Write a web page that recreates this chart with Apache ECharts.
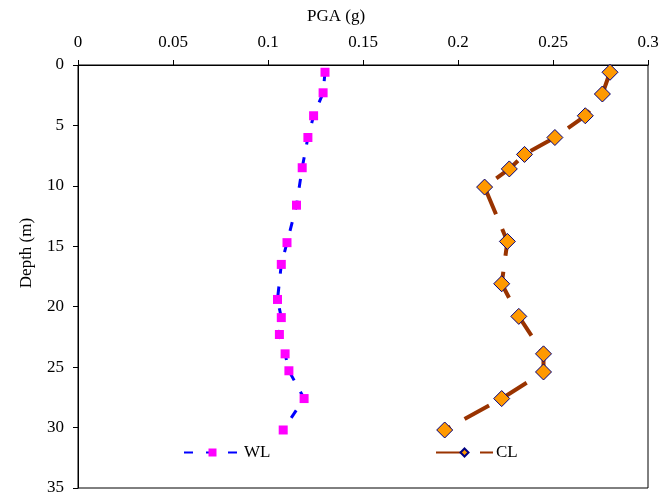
<!DOCTYPE html>
<html>
<head>
<meta charset="utf-8">
<script src="https://cdn.jsdelivr.net/npm/echarts@6/dist/echarts.min.js"></script>
<style>
  html, body { margin: 0; padding: 0; background: #fff; }
  #chart { width: 672px; height: 502px; }
</style>
</head>
<body>
<div id="chart"></div>
<script>
// Peak ground acceleration profiles with depth
const depthWL = [0.6, 2.3, 4.2, 6.0, 8.5, 11.6, 14.7, 16.5, 19.4, 20.9, 22.3, 23.9, 25.3, 27.6, 30.2];
const pgaWL   = [0.130, 0.129, 0.124, 0.121, 0.118, 0.115, 0.110, 0.107, 0.105, 0.107, 0.106, 0.109, 0.111, 0.119, 0.108];

const depthCL = [0.6, 2.4, 4.2, 6.0, 7.4, 8.6, 10.1, 14.6, 18.1, 20.8, 23.9, 25.4, 27.6, 30.2];
const pgaCL   = [0.280, 0.276, 0.267, 0.251, 0.235, 0.227, 0.214, 0.226, 0.223, 0.232, 0.245, 0.245, 0.223, 0.193];

const seriesNames = ['WL', 'CL'];

const FONT = '"Liberation Serif", "Times New Roman", serif';
const FS = 17;

const pairs = (xs, ys) => xs.map((x, i) => [x, ys[i]]);

const chart = echarts.init(document.getElementById('chart'), null, { renderer: 'canvas' });

const legendBase = {
  top: 444, padding: 0,
  itemWidth: 57, itemHeight: 10, itemGap: 0,
  textStyle: { color: '#000', fontFamily: FONT, fontSize: FS, padding: [0, 0, 0, -2] }
};

chart.setOption({
  backgroundColor: '#ffffff',
  animation: false,
  grid: {
    left: 78, right: 24, top: 65, bottom: 14,
    show: true, borderColor: '#000', borderWidth: 1, backgroundColor: 'transparent'
  },
  xAxis: {
    type: 'value',
    position: 'top',
    min: 0, max: 0.3, interval: 0.05,
    axisLine: { show: true, lineStyle: { color: '#000', width: 1 } },
    axisTick: { show: true, inside: false, length: 5, lineStyle: { color: '#000' } },
    axisLabel: { color: '#000', fontFamily: FONT, fontSize: FS, margin: 14 },
    splitLine: { show: false }
  },
  yAxis: {
    type: 'value',
    inverse: true,
    min: 0, max: 35, interval: 5,
    axisLine: { show: true, lineStyle: { color: '#000', width: 1 } },
    axisTick: { show: true, inside: false, length: 5, lineStyle: { color: '#000' } },
    axisLabel: { color: '#000', fontFamily: FONT, fontSize: FS, margin: 14 },
    splitLine: { show: false }
  },
  legend: [
    Object.assign({ data: [seriesNames[0]], left: 183 }, legendBase),
    Object.assign({ data: [seriesNames[1]], left: 435 }, legendBase)
  ],
  graphic: [
    {
      type: 'text', x: 336, y: 17,
      style: { text: 'PGA (g)', fill: '#000', font: FS + 'px ' + FONT,
               align: 'center', verticalAlign: 'middle', textAlign: 'center', textVerticalAlign: 'middle' }
    },
    {
      type: 'text', x: 27, y: 253, rotation: Math.PI / 2,
      style: { text: 'Depth (m)', fill: '#000', font: FS + 'px ' + FONT,
               align: 'center', verticalAlign: 'middle', textAlign: 'center', textVerticalAlign: 'middle' }
    }
  ],
  series: [
    {
      name: seriesNames[0],
      type: 'line',
      data: pairs(pgaWL, depthWL),
      symbol: 'rect',
      symbolSize: 9,
      itemStyle: { color: '#FF00FF', borderWidth: 0 },
      lineStyle: { color: '#0000FF', width: 3, type: [9, 13] },
      z: 3
    },
    {
      name: seriesNames[1],
      type: 'line',
      data: pairs(pgaCL, depthCL),
      symbol: 'diamond',
      symbolSize: 16,
      itemStyle: { color: '#FF9900', borderColor: '#000080', borderWidth: 1 },
      lineStyle: { color: '#993300', width: 4, type: [28, 16] },
      z: 3
    }
  ]
});
</script>
</body>
</html>
